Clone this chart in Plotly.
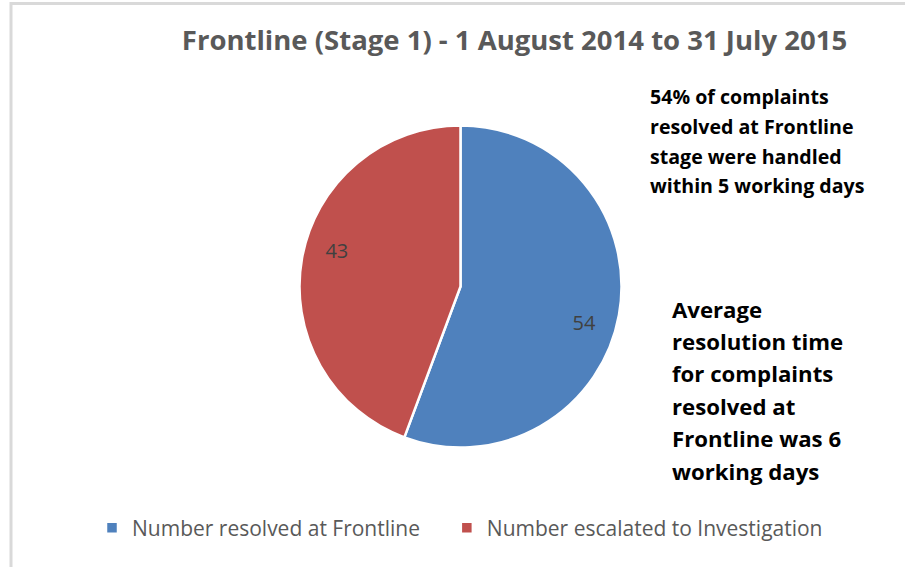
import plotly.graph_objects as go

labels = ["Number resolved at Frontline", "Number escalated to Investigation"]
values = [54, 43]
colors = ["#4F81BD", "#C0504D"]

title_text = "Frontline (Stage 1) - 1 August 2014 to 31 July 2015"
note1_lines = ["54% of complaints", "resolved at Frontline", "stage were handled", "within 5 working days"]
note2_lines = ["Average", "resolution time", "for complaints", "resolved at", "Frontline was 6", "working days"]

W, H = 905, 567
FONT = "Open Sans"


def px(x):
    return x / W


def py(y):
    return 1 - y / H


# legend entries: pad the first one with invisible spaces so the second entry sits further right
legend_labels = [labels[0] + "\u00a0" * 4] + labels[1:]

dom = dict(x=[px(299.5), px(621.5)], y=[py(447.5), py(125.5)])

fig = go.Figure()
fig.add_trace(go.Pie(
    labels=legend_labels, values=values, sort=False, direction="clockwise", rotation=0,
    marker=dict(colors=colors, line=dict(color="white", width=2.5)),
    textinfo="none", domain=dom, hoverinfo="label+value",
))
# data labels placed in the outer ring (same values)
fig.add_trace(go.Pie(
    labels=legend_labels, values=values, sort=False, direction="clockwise", rotation=6,
    hole=0.6, showlegend=False,
    marker=dict(colors=["rgba(0,0,0,0)"] * len(values), line=dict(width=0)),
    textinfo="value", textposition="inside", insidetextorientation="horizontal",
    textfont=dict(family=FONT, size=20, color="#404040"),
    domain=dom, hoverinfo="skip",
))

annotations = []
for i, line in enumerate(note1_lines):
    annotations.append(dict(
        text="<b>" + line + "</b>", x=px(648), y=py(97 + i * 29.5), xref="paper", yref="paper",
        xanchor="left", yanchor="middle", align="left", showarrow=False,
        font=dict(family=FONT, size=19.6, color="black")))
for i, line in enumerate(note2_lines):
    annotations.append(dict(
        text="<b>" + line + "</b>", x=px(670), y=py(309 + i * 32.4), xref="paper", yref="paper",
        xanchor="left", yanchor="middle", align="left", showarrow=False,
        font=dict(family=FONT, size=22.2, color="black")))

fig.update_layout(
    width=W, height=H,
    margin=dict(l=0, r=0, t=0, b=0),
    paper_bgcolor="white",
    title=dict(text="<b>" + title_text + "</b>", x=px(514.5), xanchor="center",
               y=py(40), yanchor="middle", yref="container",
               font=dict(family=FONT, size=27.5, color="#595959")),
    legend=dict(orientation="h", x=px(92), xanchor="left", y=py(528), yanchor="middle",
                font=dict(family=FONT, size=21, color="#595959"),
                traceorder="normal"),
    annotations=annotations,
    shapes=[
        dict(type="line", xref="paper", yref="paper", x0=px(10), x1=1, y0=py(3.5), y1=py(3.5),
             line=dict(color="#D9D9D9", width=3)),
        dict(type="line", xref="paper", yref="paper", x0=px(11), x1=px(11), y0=0, y1=py(2),
             line=dict(color="#D9D9D9", width=3)),
    ],
)

fig.write_html(
    "out.html",
    config={"displayModeBar": False},
    post_script="document.body.style.margin='0';document.body.style.overflow='hidden';"
                "document.documentElement.style.overflow='hidden';",
)
